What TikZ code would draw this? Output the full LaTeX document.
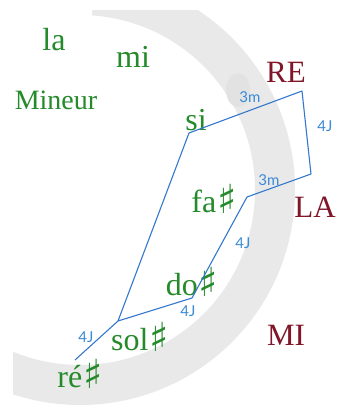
\documentclass[tikz,border=0pt]{standalone}
\usepackage{fontspec}
\setmainfont{Liberation Serif}
\newfontfamily\symfont{DejaVu Sans}
\newfontfamily\lblfont{Lato}
\definecolor{notegreen}{RGB}{36,138,42}
\definecolor{keyred}{RGB}{128,22,40}
\definecolor{lineblue}{RGB}{52,120,205}
\definecolor{lblblue}{RGB}{58,138,215}
\definecolor{ringgray}{RGB}{233,233,233}
\definecolor{blobgray}{RGB}{226,226,226}
\newcommand{\shp}{{\symfont\bfseries\fontsize{40}{40}\selectfont\kern1pt\raisebox{-1pt}{♯}}}
\begin{document}
\begin{tikzpicture}[x=1pt,y=-1pt,
  note/.style={anchor=base, inner sep=0pt, text=notegreen, font=\fontsize{32}{32}\selectfont},
  keyname/.style={anchor=base, inner sep=0pt, text=keyred, font=\fontsize{31}{31}\selectfont},
  interval/.style={inner sep=0pt, text=lblblue, font=\lblfont\fontsize{15}{15}\selectfont},
  path/.style={draw=lineblue, line width=1.1pt, line join=round}]
\useasboundingbox (0,0) rectangle (351,408);
\fill[white] (0,0) rectangle (351,408);
\begin{scope}
  \clip (13,10) rectangle (351,408);
  \draw[ringgray, line width=40pt] (80,190) ++(-86:195) arc[start angle=-86, end angle=165, radius=195];
  \fill[blobgray] (238,90) ellipse[x radius=12, y radius=17];
\end{scope}
% note and key names
\node[note] (la) at (54,50) {la};
\node[note] (mi) at (133,67) {mi};
\node[note, font=\fontsize{28}{28}\selectfont] (mineur) at (56,109) {Mineur};
\node[keyname] (RE) at (286,82) {RE};
\node[keyname] (LA) at (315,217) {LA};
\node[keyname] (MI) at (286,345) {MI};
\node[note] (si) at (196,130) {si};
\node[note] (fa) at (214,212) {fa\shp};
\node[note] (do) at (192,295) {do\shp};
\node[note] (sol) at (140,350) {sol\shp};
\node[note] (re) at (80,387) {ré\shp};
% path vertices
\coordinate (vsi) at (189,133);
\coordinate (vre) at (302,91);
\coordinate (vla) at (311,174);
\coordinate (vfa) at (247,197);
\coordinate (vdo) at (192,298);
\coordinate (vsol) at (118,321);
\coordinate (vend) at (75,360);
\draw[path] (vend) -- (vsol) -- (vsi) -- (vre) -- (vla) -- (vfa) -- (vdo) -- (vsol);
% interval labels
\node[interval] (i1) at (250,97) {3m};
\node[interval] (i2) at (325,126) {4J};
\node[interval] (i3) at (269,180) {3m};
\node[interval] (i4) at (243,243) {4J};
\node[interval] (i5) at (188,311) {4J};
\node[interval] (i6) at (86,337) {4J};
\end{tikzpicture}
\end{document}
